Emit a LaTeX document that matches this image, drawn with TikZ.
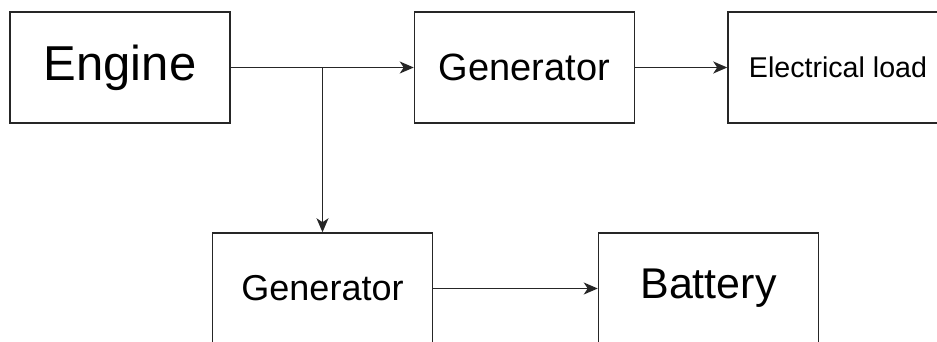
\documentclass[tikz,border=0pt]{standalone}
\usepackage{fontspec}
\setmainfont{Liberation Sans}
\usetikzlibrary{arrows.meta}
\begin{document}
\begin{tikzpicture}[x=1pt,y=-1pt,
  blk/.style={draw=black!85, line width=1.5pt, rectangle, inner sep=0pt,
    minimum width=220pt, minimum height=111pt, text=black},
  arr/.style={draw=black!85, line width=1.5pt, -{Stealth[length=14pt,width=12pt,inset=4pt]}}]
\useasboundingbox (0,0) rectangle (937,342);
\clip (0,0) rectangle (937,342);
\node[blk, font=\fontsize{49}{55}\selectfont] (engine) at (120,67.5) {Engine};
\node[blk, font=\fontsize{38}{44}\selectfont] (gen1) at (524.5,67.5) {Generator};
\node[blk, font=\fontsize{28.6}{33}\selectfont] (load) at (838,67.5) {Electrical load};
\node[blk, font=\fontsize{36}{42}\selectfont] (gen2) at (322.5,288.5) {Generator};
\node[blk, font=\fontsize{43}{49}\selectfont] (bat) at (708.5,288.5) {Battery};
\coordinate (br) at (322.5,67.5);
\draw[arr] (engine.east) -- (gen1.west);
\draw[arr] (br) -- (gen2.north);
\draw[arr] (gen1.east) -- (load.west);
\draw[arr] (gen2.east) -- (bat.west);
\end{tikzpicture}
\end{document}
